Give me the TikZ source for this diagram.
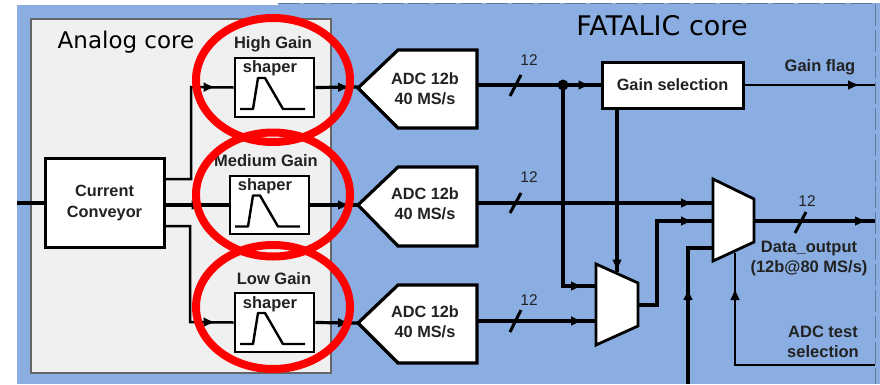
\documentclass[tikz,border=0pt]{standalone}
\usepackage{fontspec}
\setmainfont{Liberation Sans}
\newfontfamily\handfont{DejaVu Sans}
\usetikzlibrary{arrows.meta,decorations.markings}
\definecolor{corebg}{HTML}{8BAEE2}
\definecolor{analogbg}{HTML}{F0F0F0}
\definecolor{ringred}{HTML}{FF0000}
\definecolor{inktxt}{HTML}{222222}
\tikzset{
  x=1pt,y=-1pt,
  wire/.style={draw=black,line width=3.2pt},
  thickwire/.style={draw=black,line width=3.8pt},
  thinwire/.style={draw=black,line width=2.5pt},
  arrowat/.style={postaction={decorate},decoration={markings,mark=at position #1 with {\arrow{Latex[length=12pt,width=10pt]}}}},
  blockbox/.style={draw=black,line width=3pt,fill=white,inner sep=0pt,align=center,font=\fontsize{16.3}{21}\selectfont\bfseries,text=inktxt},
  adcbody/.style={draw=black,line width=3.2pt,fill=white,line join=miter},
  adctext/.style={minimum width=104pt,minimum height=78pt,inner sep=0pt,align=center,font=\fontsize{16.3}{20}\selectfont\bfseries,text=inktxt},
  muxbody/.style={draw=black,line width=2.8pt,fill=white},
  lbl/.style={inner sep=0pt,align=center,font=\fontsize{16.5}{20}\selectfont\bfseries,text=inktxt},
  countlbl/.style={inner sep=0pt,font=\fontsize{15.5}{18}\selectfont,text=inktxt},
  slashmark/.style={draw=black,line width=3pt},
  ring/.style={draw=ringred,line width=8pt},
  shaperbox/.style={draw=black,line width=2.8pt,fill=white,minimum width=79pt,minimum height=59pt,inner sep=0pt},
  pulse/.style={draw=black,line width=2.4pt},
}
\begin{document}
\begin{tikzpicture}
\useasboundingbox (0,0) rectangle (880,384);
\fill[white] (0,0) rectangle (880,384);
\fill[corebg] (17,5) rectangle (278,384);
\fill[corebg] (278,3) rectangle (880,384);
\draw[draw=black!30!corebg,line width=1pt,dash pattern=on 22pt off 4pt] (278,3) -- (875,3) -- (875,384);
\draw[draw=black!60,fill=analogbg,line width=1.4pt] (31,19) rectangle (331,373);
\node[font=\handfont\fontsize{23}{26}\selectfont,inner sep=0pt] (analoglabel) at (126,42) {Analog core};
\node[font=\handfont\fontsize{27}{30}\selectfont,inner sep=0pt] (fataliclabel) at (662,26) {FATALIC core};

% Blocks
\node[blockbox,minimum width=119pt,minimum height=89pt] (cc) at (104.5,202.5) {Current\\Conveyor};
\coordinate (ccin) at (17,203);
\coordinate (cchigh) at (164,179);
\coordinate (ccmid) at (164,205);
\coordinate (cclow) at (164,226);

\node[shaperbox] (shHigh) at (274.5,87.5) {};
\node[shaperbox,minimum height=58pt] (shMed) at (269.5,205) {};
\node[shaperbox] (shLow) at (274.5,322.5) {};
\foreach \n/\dx/\dy in {High/0/0,Med/-5/117.5,Low/0/235}{
  \draw[pulse,line join=round,shift={(\dx,\dy)}] (240,109) -- (253,109) -- (258,78) -- (265,78) -- (283,109) -- (305,109);
}
\node[lbl] (tHigh) at (270,68) {shaper};
\node[lbl] (tMed) at (265,186) {shaper};
\node[lbl] (tLow) at (270,304) {shaper};
\node[lbl] (lHigh) at (273,44) {High Gain};
\node[lbl] (lMed) at (266,161) {Medium Gain};
\node[lbl] (lLow) at (274,279) {Low Gain};

% ADCs
\foreach \n/\y/\t/\b in {1/88/50/128,2/205/167/246,3/323/285/363}{
  \draw[adcbody] (358,\y) -- (398,\t) -- (477,\t) -- (477,\b) -- (398,\b) -- cycle;
}
\node[adctext] (adc1) at (425,89) {ADC 12b\\40 MS/s};
\node[adctext] (adc2) at (425,204) {ADC 12b\\40 MS/s};
\node[adctext] (adc3) at (425,322) {ADC 12b\\40 MS/s};
\coordinate (adc1tip) at (358,87);
\coordinate (adc2tip) at (358,205);
\coordinate (adc3tip) at (358,323);

\node[blockbox,minimum width=141pt,minimum height=46pt] (gain) at (672.5,85) {Gain selection};

% Muxes
\draw[muxbody] (596,264) -- (638,283) -- (638,326) -- (596,345) -- cycle;
\draw[muxbody] (713,179) -- (754,199) -- (754,242) -- (713,261) -- cycle;
\coordinate (dot) at (563,85);
\coordinate (mAin) at (596,286);
\coordinate (mBin) at (596,321);
\coordinate (mSel) at (617,272);
\coordinate (mOut) at (638,305);
\coordinate (nAin) at (713,203);
\coordinate (nBin) at (713,221);
\coordinate (nCin) at (713,248);
\coordinate (nSel) at (735,253);
\coordinate (nOut) at (754,221);
\coordinate (flagEnd) at (875,85);
\coordinate (outEnd) at (875,221);
\coordinate (testEnd) at (875,365);
\coordinate (botEnd) at (688,384);

% Analog wiring
\draw[wire] (ccin) -- (cc.west |- ccin);
\draw[thinwire,arrowat=-18pt] (cchigh) -- (191,179) -- (191,87) -- (shHigh.west);
\draw[wire,arrowat=-25pt] (ccmid) -- (shMed.west |- ccmid);
\draw[thinwire,arrowat=-18pt] (cclow) -- (190,226) -- (190,322) -- (shLow.west);
\draw[wire,arrowat=-8pt] (shHigh.east) -- (adc1tip);
\draw[wire,arrowat=-8pt] (shMed.east) -- (adc2tip);
\draw[wire,arrowat=-8pt] (shLow.east) -- (adc3tip);

% Digital wiring
\draw[thickwire,arrowat=-10pt] (adc1.east |- gain.west) -- (gain.west);
\draw[thickwire,arrowat=-13pt] (dot) -- (563,286) -- (mAin);
\fill (dot) circle (5.5pt);
\draw[wire,arrowat=-0.5pt] (gain.south -| mSel) -- (mSel);
\draw[thinwire,arrowat=-15pt] (gain.east |- flagEnd) -- (flagEnd);
\draw[wire,arrowat=-20pt] (adc2.east |- nAin) -- (nAin);
\draw[wire,arrowat=-13pt] (adc3.east |- mBin) -- (mBin);
\draw[wire,arrowat=-20pt] (mOut) -- (657,305) -- (657,221) -- (nBin);
\draw[wire,arrowat=96pt] (botEnd) -- (688,248) -- (nCin);
\draw[thinwire,arrowat=-35pt] (testEnd) -- (735,365) -- (nSel);
\draw[wire,arrowat=-8pt] (nOut) -- (outEnd);

% Bus slashes and counts
\draw[slashmark] (510,96) -- (521,75);
\draw[slashmark] (510,213) -- (521,193);
\draw[slashmark] (510,332) -- (521,310);
\draw[slashmark] (795,233) -- (806,212);
\node[countlbl] (n1) at (529,60) {12};
\node[countlbl] (n2) at (529,177) {12};
\node[countlbl] (n3) at (529,300) {12};
\node[countlbl] (n4) at (807,201) {12};

\node[lbl] (flag) at (820,67) {Gain flag};
\node[lbl] (dataout) at (809,259) {Data\_output\\(12b@80 MS/s)};
\node[lbl] (test) at (823,342) {ADC test\\selection};

% Highlight rings
\foreach \n/\y in {a/80,b/194.5,c/307}{
  \draw[ring] (273,\y) ellipse (77pt and 62pt);
}
\end{tikzpicture}
\end{document}
